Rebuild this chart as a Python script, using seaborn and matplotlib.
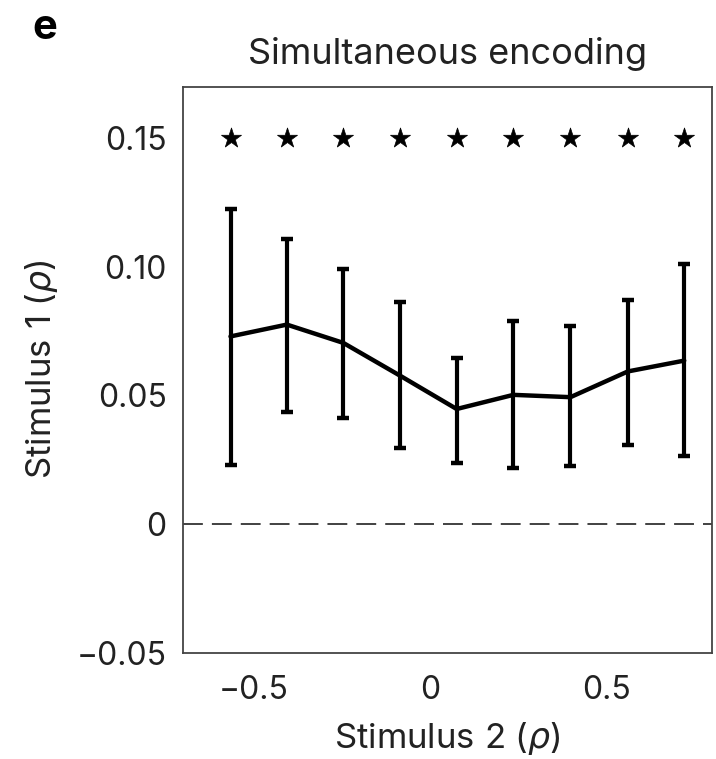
import matplotlib
matplotlib.use("Agg")
import matplotlib.pyplot as plt
import seaborn as sns
import pandas as pd

# --- Data ---
stim2 = [-0.566, -0.406, -0.246, -0.084, 0.076, 0.237, 0.399, 0.562, 0.722]
stim1_mean = [0.0729, 0.0775, 0.0704, 0.0576, 0.0447, 0.0502, 0.0493, 0.0593, 0.0635]
stim1_upper = [0.1223, 0.1109, 0.0992, 0.0862, 0.0645, 0.0790, 0.0768, 0.0872, 0.1009]
stim1_lower = [0.0230, 0.0437, 0.0414, 0.0297, 0.0236, 0.0217, 0.0226, 0.0308, 0.0266]
star_level = [0.15] * 9

x_ticks = [-0.5, 0, 0.5]
x_tick_labels = ["\u22120.5", "0", "0.5"]
y_ticks = [-0.05, 0, 0.05, 0.10, 0.15]
y_tick_labels = ["\u22120.05", "0", "0.05", "0.10", "0.15"]

df = pd.DataFrame({"stim2": stim2, "mean": stim1_mean,
                   "upper": stim1_upper, "lower": stim1_lower, "star": star_level})

sns.set_theme(style="white")
plt.rcParams["font.family"] = ["Inter", "DejaVu Sans"]

fig = plt.figure(figsize=(7.16, 7.59), dpi=100)
ax = fig.add_axes([0.256, 0.140, 0.738, 0.746])

# zero reference line
ax.axhline(0, color="#333333", lw=1.3, dashes=(11, 5), zorder=1)

# error bars
yerr = [df["mean"] - df["lower"], df["upper"] - df["mean"]]
ax.errorbar(df["stim2"], df["mean"], yerr=yerr, fmt="none", ecolor="black",
            elinewidth=3.0, capsize=4.5, capthick=3.2, zorder=2)

# mean line
sns.lineplot(data=df, x="stim2", y="mean", color="black", lw=3.2, ax=ax, zorder=3)

# significance stars
sns.scatterplot(data=df, x="stim2", y="star", marker="*", color="black",
                s=230, edgecolor="black", linewidth=0.5, ax=ax, zorder=4)

ax.set_xlim(-0.7, 0.8)
ax.set_ylim(-0.05, 0.17)
ax.set_xticks(x_ticks)
ax.set_xticklabels(x_tick_labels)
ax.set_yticks(y_ticks)
ax.set_yticklabels(y_tick_labels)
ax.tick_params(direction="in", length=10, width=1.2, colors="#333333",
               labelsize=23, labelcolor="#222222")
ax.tick_params(axis="x", pad=16)
ax.tick_params(axis="y", pad=12)

for side in ["left", "right", "top", "bottom"]:
    ax.spines[side].set_visible(True)
    ax.spines[side].set_color("#444444")
    ax.spines[side].set_linewidth(1.3)

ax.set_xlabel(r"Stimulus 2 ($\rho$)", fontsize=25, color="#222222", labelpad=10)
ax.set_ylabel(r"Stimulus 1 ($\rho$)", fontsize=25, color="#222222", labelpad=12)
ax.set_title("Simultaneous encoding", fontsize=26, color="#222222", pad=16)

fig.text(0.063, 0.963, "e", fontsize=30, fontweight="bold", color="black",
         ha="center", va="center")

fig.savefig("out.png", dpi=100)
